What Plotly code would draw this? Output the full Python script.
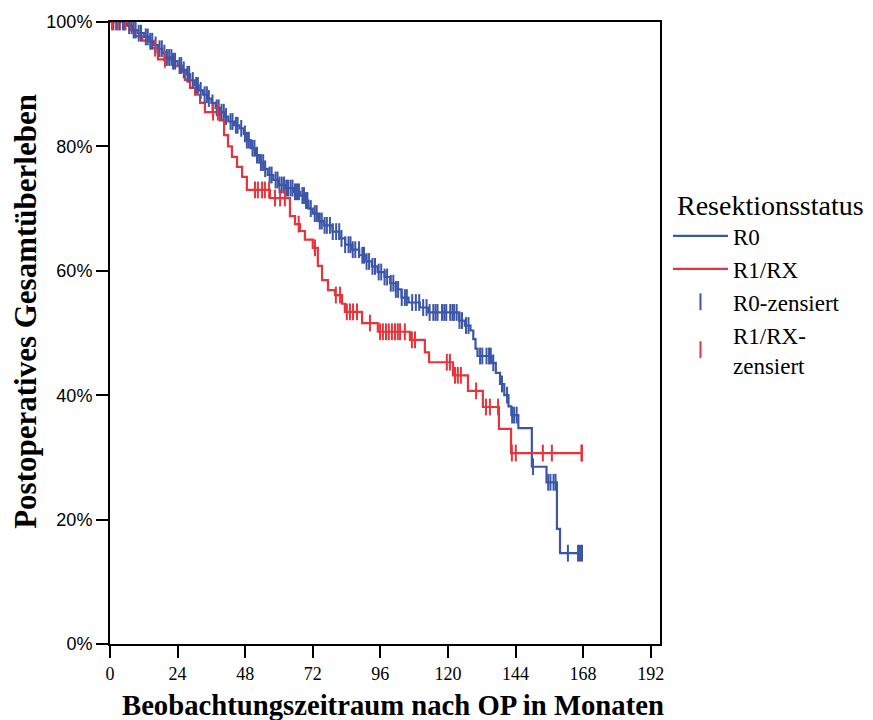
import plotly.graph_objects as go

# ---------------- data ----------------
# Kaplan-Meier step data: event times (months) and survival after each event
r0_time = [6, 8, 10, 12, 14, 15.5, 17, 18.5, 20, 22, 24, 25.5, 27, 28.5, 30, 31.5,
           33, 34.5, 36, 37.5, 39, 40.5, 42, 44, 46, 47.5, 48.5, 50, 51.5, 53, 54.5,
           56, 58, 60, 62.5, 65, 67.5, 69.5, 70.5, 72, 74, 76, 79, 81.5, 83.5, 86,
           88.5, 91, 93, 95, 97.5, 99.5, 101.5, 103.5, 106, 110, 113, 124, 126, 128,
           129, 129.8, 130.5, 135.5, 137, 138.5, 140, 141.5, 142.5, 145, 149.8, 155,
           158.7, 159.8]
r0_surv = [0.994, 0.987, 0.982, 0.976, 0.969, 0.963, 0.957, 0.950, 0.943, 0.937, 0.930,
           0.923, 0.916, 0.906, 0.898, 0.890, 0.883, 0.877, 0.870, 0.862, 0.855, 0.848,
           0.840, 0.834, 0.829, 0.820, 0.810, 0.797, 0.786, 0.774, 0.764, 0.754, 0.746,
           0.738, 0.733, 0.727, 0.721, 0.713, 0.700, 0.692, 0.680, 0.673, 0.663, 0.652,
           0.642, 0.634, 0.625, 0.615, 0.607, 0.598, 0.590, 0.580, 0.570, 0.557, 0.549,
           0.541, 0.533, 0.520, 0.512, 0.504, 0.490, 0.475, 0.463, 0.452, 0.436, 0.418,
           0.400, 0.382, 0.368, 0.347, 0.285, 0.260, 0.185, 0.146]
r0_censor = [1.2, 2.2, 3.5, 4.6, 5.1, 6.8, 7.7, 8.4, 9.1, 10.2, 11.0, 12.7, 13.4, 14.3,
             15.0, 16.2, 17.6, 18.4, 19.3, 20.2, 21.0, 21.8, 22.4, 23.1, 24.7, 25.3,
             26.2, 27.5, 28.1, 29.4, 30.6, 31.2, 32.2, 33.6, 34.4, 35.1, 36.4, 37.9,
             38.6, 39.6, 40.4, 41.2, 42.8, 43.5, 44.7, 45.3, 46.6, 47.9, 48.6, 49.3,
             50.6, 51.3, 52.2, 53.6, 54.4, 55.1, 56.7, 57.4, 58.8, 59.5, 60.2, 61.0,
             61.8, 62.6, 63.2, 64.1, 64.8, 65.7, 66.4, 67.1, 68.3, 68.9, 69.6, 70.1,
             71.3, 72.7, 73.4, 74.5, 75.2, 76.2, 77.0, 78.1, 79.1, 80.3, 81.4, 82.2,
             83.5, 84.7, 85.4, 86.2, 87.1, 88.4, 89.6, 90.2, 91.1, 92.0, 93.2, 94.1,
             95.4, 96.3, 97.5, 98.4, 99.7, 100.6, 101.5, 102.3, 103.6, 104.7, 105.4,
             107.3, 108.6, 109.8, 111.2, 112.4, 113.5, 114.8, 115.6, 116.3, 117.9,
             118.7, 119.4, 120.8, 121.6, 122.2, 123.1, 124.1, 125.0, 126.4, 127.3,
             131.4, 132.2, 133.7, 134.6, 135.2, 136.1, 139.2, 141.0, 142.8, 143.5,
             144.4, 150.2, 155.6, 156.4, 157.5, 158.2, 162.6, 166.2, 166.9, 167.6]

r1_time = [7, 9, 11.5, 15, 17, 23, 25, 26.6, 28.4, 30.2, 32, 33.7, 39, 40.5, 41.9,
           43.3, 45.1, 46.9, 48.6, 56.8, 63.9, 65.7, 67.5, 69.2, 72, 73.8, 75.3, 77.4,
           79.9, 82.4, 83.4, 89.5, 95.1, 106.5, 111.8, 113.3, 121.8, 127.1, 132.4,
           138.1, 142.4]
r1_surv = [0.987, 0.977, 0.970, 0.958, 0.940, 0.929, 0.920, 0.907, 0.894, 0.883, 0.870,
           0.855, 0.842, 0.818, 0.800, 0.783, 0.767, 0.751, 0.730, 0.717, 0.688, 0.675,
           0.664, 0.650, 0.637, 0.608, 0.585, 0.569, 0.561, 0.547, 0.534, 0.516, 0.502,
           0.489, 0.469, 0.453, 0.432, 0.407, 0.381, 0.346, 0.307]
r1_censor = [0.7, 2.8, 5.5, 16, 19.5, 36.6, 38.3, 51.5, 52.5, 54, 55, 56.5, 58.6, 60.4,
             62.1, 67, 72.8, 80.2, 81.7, 84.1, 85.2, 86.3, 87.7, 92.3, 95.9, 96.9, 98,
             99, 100.1, 101.2, 102.2, 103, 104.7, 107.2, 108.3, 119.6, 120.7, 122.5,
             123.5, 124.6, 130, 133.5, 134.9, 137.8, 142.7, 144.1, 153.7, 156.9, 167.4,
             167.6]

x_ticks = [0, 24, 48, 72, 96, 120, 144, 168, 192]
y_ticks = [0, 0.2, 0.4, 0.6, 0.8, 1.0]
y_tick_labels = ["0%", "20%", "40%", "60%", "80%", "100%"]

BLUE = "#3B56A8"
RED = "#E8333A"


def step_curve(times, surv, end):
    xs = [0] + list(times) + [end]
    ys = [1.0] + list(surv) + [surv[-1]]
    return xs, ys


def surv_at(t, times, surv):
    s = 1.0
    for ti, si in zip(times, surv):
        if ti <= t:
            s = si
        else:
            break
    return s


fig = go.Figure()

x0, y0 = step_curve(r0_time, r0_surv, max(r0_censor))
x1, y1 = step_curve(r1_time, r1_surv, max(r1_censor))

fig.add_trace(go.Scatter(x=x0, y=y0, mode="lines", line=dict(color=BLUE, width=2.2, shape="hv"),
                         name="R0"))
fig.add_trace(go.Scatter(x=x1, y=y1, mode="lines", line=dict(color=RED, width=2.2, shape="hv"),
                         name="R1/RX"))
fig.add_trace(go.Scatter(x=r0_censor, y=[surv_at(t, r0_time, r0_surv) for t in r0_censor],
                         mode="markers", name="R0-zensiert",
                         marker=dict(symbol="line-ns", size=12, color=BLUE,
                                     line=dict(color=BLUE, width=2))))
fig.add_trace(go.Scatter(x=r1_censor, y=[surv_at(t, r1_time, r1_surv) for t in r1_censor],
                         mode="markers", name="R1/RX-<br>zensiert",
                         marker=dict(symbol="line-ns", size=12, color=RED,
                                     line=dict(color=RED, width=2))))

fig.update_xaxes(range=[0, 195.3], tickvals=x_ticks, ticks="outside", ticklen=12,
                 tickwidth=2, tickcolor="black", showline=True, linewidth=2,
                 linecolor="black", mirror=True, showgrid=False, zeroline=False,
                 automargin=False,
                 tickfont=dict(family="Liberation Serif", size=18, color="black"))
fig.update_yaxes(range=[0, 1], tickvals=y_ticks, ticktext=y_tick_labels, ticks="outside",
                 ticklen=12, tickwidth=2, tickcolor="black", showline=True, linewidth=2,
                 linecolor="black", mirror=True, showgrid=False, zeroline=False,
                 automargin=False,
                 tickfont=dict(family="Liberation Sans", size=18, color="black"))

fig.add_annotation(text="<b>Beobachtungszeitraum nach OP in Monaten</b>", xref="paper",
                   yref="paper", x=0.515, y=-0.0985, xanchor="center", yanchor="middle",
                   showarrow=False, font=dict(family="Liberation Serif", size=28.7, color="black"))
fig.add_annotation(text="<b>Postoperatives Gesamtüberleben</b>", xref="paper", yref="paper",
                   x=-0.1527, y=0.534, xanchor="center", yanchor="middle", textangle=-90,
                   showarrow=False, font=dict(family="Liberation Serif", size=31, color="black"))

# the page places the figure 8px from the top-left corner, so margins compensate
fig.update_layout(
    width=865, height=712,
    margin=dict(l=102, r=213, t=14, b=76, autoexpand=False),
    paper_bgcolor="white", plot_bgcolor="white",
    showlegend=True,
    legend=dict(
        title=dict(text="\u00a0Resektionsstatus", font=dict(family="Liberation Serif", size=28,
                                                             color="black")),
        font=dict(family="Liberation Serif", size=23, color="black"),
        x=1.0145, y=0.749, xanchor="left", yanchor="top",
        itemwidth=55,
        bgcolor="rgba(0,0,0,0)", borderwidth=0,
    ),
)

fig.write_html("out.html")
